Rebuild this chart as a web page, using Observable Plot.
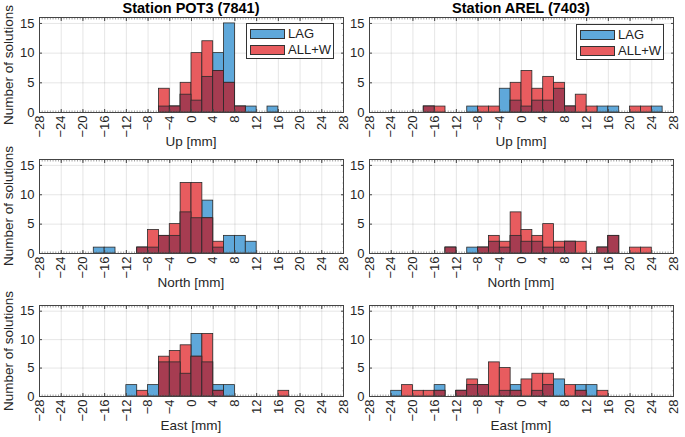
<!DOCTYPE html>
<html><head><meta charset="utf-8">
<script src="https://cdn.jsdelivr.net/npm/d3@7"></script>
<script src="https://cdn.jsdelivr.net/npm/@observablehq/plot@0.6"></script>
<style>
body{margin:0;background:#fff;}
#fig{position:relative;width:685px;height:437px;font-family:"Liberation Sans",Arial,Helvetica,sans-serif;overflow:hidden;background:#fff}
.panel{position:absolute}
.title{position:absolute;font-weight:bold;font-size:14.5px;color:#000;text-align:center;white-space:nowrap}
.xlab{position:absolute;font-size:13.5px;color:#262626;text-align:center;white-space:nowrap;line-height:14px}
.ylab{position:absolute;font-size:13.5px;color:#262626;white-space:nowrap;line-height:14px;transform:translate(-50%,-50%) rotate(-90deg)}
.legend{position:absolute;border:1px solid #333;background:#fff;font-size:13px;color:#222}
.legend .row{position:absolute;left:3px;height:11px;display:flex;align-items:center}
.legend .sw{width:35px;height:10px;border:1px solid #333;box-sizing:border-box;margin-right:3px}
</style></head><body><div id="fig"></div>
<script>
// bin left edges (mm), bin width 2 mm
const binStarts = [-28,-26,-24,-22,-20,-18,-16,-14,-12,-10,-8,-6,-4,-2,0,2,4,6,8,10,12,14,16,18,20,22,24,26];
const binWidth = 2;
const xTicks = [-28,-24,-20,-16,-12,-8,-4,0,4,8,12,16,20,24,28];
const yTicks = [0,5,10,15];
const seriesNames = ["LAG","ALL+W"];
const stationTitles = ["Station POT3 (7841)","Station AREL (7403)"];
const componentLabels = ["Up [mm]","North [mm]","East [mm]"];
const yLabel = "Number of solutions";

// counts per bin
const pot3UpLag      = [0,0,0,0,0,0,0,0,0,0,0,1,1,3,2,6,10,15,1,1,0,1,0,0,0,0,0,0];
const pot3UpAll      = [0,0,0,0,0,0,0,0,0,0,0,4,1,5,10,12,7,5,1,0,0,0,0,0,0,0,0,0];
const arelUpLag      = [0,0,0,0,0,1,0,0,0,1,0,0,4,2,1,2,2,4,1,0,0,1,1,0,0,0,1,0];
const arelUpAll      = [0,0,0,0,0,1,1,0,0,0,1,1,0,5,7,4,6,5,1,3,1,0,0,0,1,1,0,0];
const pot3NorthLag   = [0,0,0,0,0,1,1,0,0,1,1,3,3,7,6,9,1,3,3,2,0,0,0,0,0,0,0,0];
const pot3NorthAll   = [0,0,0,0,0,0,0,0,0,1,4,3,5,12,12,6,2,0,0,0,0,0,0,0,0,0,0,0];
const arelNorthLag   = [0,0,0,0,0,0,0,1,0,1,1,2,1,3,2,2,1,1,2,0,0,1,3,0,0,0,0,0];
const arelNorthAll   = [0,0,0,0,0,0,0,1,0,0,1,3,2,7,4,3,5,2,2,2,0,1,3,0,1,1,0,0];
const pot3EastLag    = [0,0,0,0,0,0,0,0,2,0,2,6,6,4,11,6,2,2,0,0,0,0,0,0,0,0,0,0];
const pot3EastAll    = [0,0,0,0,0,0,0,0,0,1,0,7,8,9,7,11,1,0,0,0,0,0,1,0,0,0,0,0];
const arelEastLag    = [0,0,1,0,0,0,2,0,1,2,2,0,1,2,0,1,2,3,0,2,2,0,0,0,0,0,0,0];
const arelEastAll    = [0,0,0,2,1,1,1,0,1,3,2,6,5,1,3,4,4,0,2,1,0,1,0,0,0,0,0,0];

const panels = [
  {row:0,col:0,lag:pot3UpLag,all:pot3UpAll},
  {row:0,col:1,lag:arelUpLag,all:arelUpAll},
  {row:1,col:0,lag:pot3NorthLag,all:pot3NorthAll},
  {row:1,col:1,lag:arelNorthLag,all:arelNorthAll},
  {row:2,col:0,lag:pot3EastLag,all:pot3EastAll},
  {row:2,col:1,lag:arelEastLag,all:arelEastAll}
];

const BLUE = "#5fa8da", RED = "#e85c5f", DARK = "#a63c51", EDGE = "#2a2a2a";
const font = '"Liberation Sans",Arial,Helvetica,sans-serif';
const xMinor = d3.range(-28, 28.01, 0.5);
const yMinor = d3.range(0, 16.01, 1);

// layout geometry (svg boxes)
const colGeom = [{left:0,width:345,ml:39,mr:2},{left:343,width:342,ml:26,mr:12}];
const rowGeom = [{top:0,height:145,mt:17,mb:33},{top:145,height:145,mt:14,mb:37},{top:290,height:147,mt:15,mb:41}];

const fig = document.getElementById("fig");

for (const p of panels) {
  const cg = colGeom[p.col], rg = rowGeom[p.row];
  const data = binStarts.map((b,i)=>({x1:b, x2:b+binWidth, lag:p.lag[i], all:p.all[i], both:Math.min(p.lag[i],p.all[i])}));
  const marks = [
    Plot.gridX(xTicks,{stroke:"#000",strokeOpacity:0.1}),
    Plot.gridY(yTicks,{stroke:"#000",strokeOpacity:0.1}),
    Plot.rect(data.filter(d=>d.lag>0),{x1:"x1",x2:"x2",y1:0,y2:"lag",fill:BLUE,stroke:EDGE,strokeWidth:0.8}),
    Plot.rect(data.filter(d=>d.all>0),{x1:"x1",x2:"x2",y1:0,y2:"all",fill:RED,stroke:EDGE,strokeWidth:0.8}),
    Plot.rect(data.filter(d=>d.both>0),{x1:"x1",x2:"x2",y1:0,y2:"both",fill:DARK,stroke:EDGE,strokeWidth:0.8}),
    Plot.axisX(xTicks,{anchor:"bottom",tickSize:0,tickRotate:-90,textAnchor:"end",tickPadding:3,fontSize:13,fill:"#262626",label:null}),
    Plot.axisX(xMinor,{anchor:"bottom",tickSize:-1.5,tickFormat:()=>"",stroke:"#666",strokeWidth:0.6,label:null}),
    Plot.axisX(xMinor,{anchor:"top",tickSize:-1.5,tickFormat:()=>"",stroke:"#666",strokeWidth:0.6,label:null}),
    Plot.axisX(xTicks,{anchor:"bottom",tickSize:-3,tickFormat:()=>"",stroke:"#444",label:null}),
    Plot.axisX(xTicks,{anchor:"top",tickSize:-3,tickFormat:()=>"",stroke:"#444",label:null}),
    Plot.axisY(yMinor,{anchor:"right",tickSize:-1.5,tickFormat:()=>"",stroke:"#666",strokeWidth:0.6,label:null}),
    Plot.axisY(yTicks,{anchor:"left",tickSize:-3,tickPadding:8,fontSize:13,fill:"#262626",stroke:"#444",label:null}),
    Plot.axisY(yTicks,{anchor:"right",tickSize:-3,tickFormat:()=>"",stroke:"#444",label:null}),
    Plot.frame({stroke:"#444",strokeWidth:1})
  ];
  const svg = Plot.plot({
    width:cg.width,height:rg.height,
    marginLeft:cg.ml,marginRight:cg.mr,marginTop:rg.mt,marginBottom:rg.mb,
    x:{domain:[-28,28]},
    y:{domain:[0,16]},
    style:{fontFamily:font,fontSize:"13px",background:"transparent",overflow:"visible"},
    marks
  });
  svg.classList.add("panel");
  svg.style.left = cg.left+"px";
  svg.style.top = rg.top+"px";
  fig.appendChild(svg);

  // x label
  const fl = cg.left+cg.ml, fr = cg.left+cg.width-cg.mr;
  const fb = rg.top+rg.height-rg.mb, ft = rg.top+rg.mt;
  const xl = document.createElement("div");
  xl.className="xlab"; xl.textContent=componentLabels[p.row];
  xl.style.left=fl+"px"; xl.style.width=(fr-fl)+"px"; xl.style.top=(fb+23)+"px";
  fig.appendChild(xl);
  if (p.col===0) {
    const yl = document.createElement("div");
    yl.className="ylab"; yl.textContent=yLabel;
    yl.style.left="9px"; yl.style.top=((ft+fb)/2)+"px";
    fig.appendChild(yl);
  }
}

// titles
[[39,343],[369,673]].forEach(([a,b],i)=>{
  const t = document.createElement("div");
  t.className="title";
  t.textContent = stationTitles[i];
  t.style.left = a+"px"; t.style.width=(b-a)+"px"; t.style.top="0px";
  fig.appendChild(t);
});

// legends
[[246,23],[576,24]].forEach(([x,y])=>{
  const L = document.createElement("div");
  L.className="legend";
  L.style.left=x+"px"; L.style.top=y+"px"; L.style.width="86px"; L.style.height="34px";
  [[BLUE,seriesNames[0],4],[RED,seriesNames[1],20]].forEach(([c,n,t])=>{
    const r=document.createElement("div"); r.className="row"; r.style.top=t+"px";
    const s=document.createElement("div"); s.className="sw"; s.style.background=c;
    const tx=document.createElement("span"); tx.textContent=n;
    r.appendChild(s); r.appendChild(tx); L.appendChild(r);
  });
  fig.appendChild(L);
});
</script></body></html>
